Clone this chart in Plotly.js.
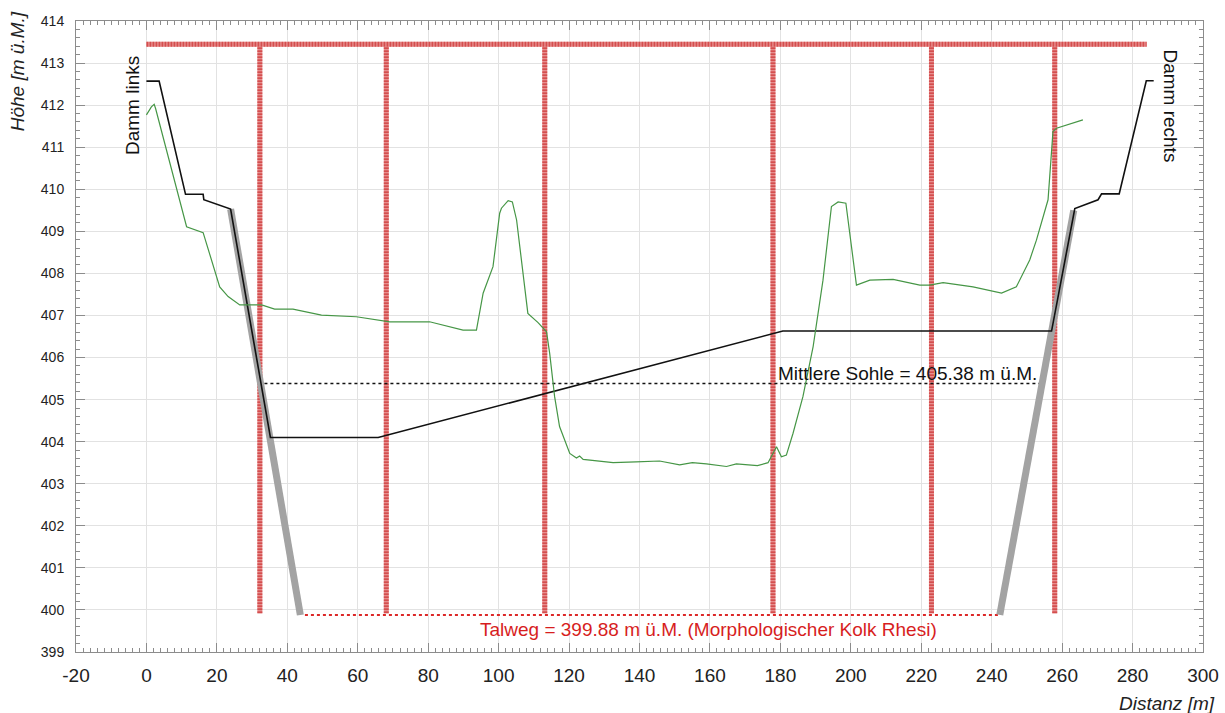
<!DOCTYPE html>
<html>
<head>
<meta charset="utf-8">
<script src="https://cdn.plot.ly/plotly-3.0.1.min.js"></script>
<style>
  html, body { margin: 0; padding: 0; background: #ffffff; }
  #chart { width: 1225px; height: 713px; }
</style>
</head>
<body>
<div id="chart"></div>
<script>
// Cross-section: surveyed terrain, design profile, embankments and reference levels

// Surveyed terrain (green)
const groundX = [0, 1.4, 2.2, 2.6, 11.4, 16.1, 20.8, 23.2, 26.5, 32.7, 36.4, 41.6, 49.7, 59.6, 69.1, 80.4,
  89.9, 93.7, 95.6, 98.4, 100.3, 100.8, 102.7, 103.9, 105.1, 108.3, 111.2, 113.6, 114.5, 115.9, 117.3,
  120.2, 122.1, 123.0, 124.0, 127.5, 132.5, 139.0, 145.7, 151.4, 155.0, 159.0, 164.7, 167.5, 170.4, 173.5,
  176.5, 178.9, 180.3, 181.7, 183.6, 186.4, 189.3, 192.1, 194.5, 196.4, 198.6, 201.6, 205.4, 212.0,
  219.6, 222.4, 226.2, 234.7, 242.8, 247.0, 250.8, 252.7, 256.0, 256.7, 257.4, 258.4, 265.9];
const groundY = [411.77, 411.96, 412.02, 411.92, 409.11, 408.97, 407.68, 407.45, 407.25, 407.25, 407.15,
  407.15, 407.01, 406.97, 406.85, 406.85, 406.65, 406.65, 407.53, 408.16, 409.43, 409.55, 409.73, 409.70,
  409.27, 407.05, 406.83, 406.61, 406.10, 405.07, 404.36, 403.72, 403.61, 403.66, 403.58, 403.54, 403.50,
  403.52, 403.54, 403.45, 403.50, 403.47, 403.41, 403.47, 403.45, 403.43, 403.50, 403.88, 403.64, 403.68,
  404.20, 405.07, 406.26, 407.84, 409.59, 409.70, 409.67, 407.72, 407.84, 407.86, 407.72, 407.72, 407.78,
  407.68, 407.53, 407.68, 408.32, 408.79, 409.75, 410.62, 411.37, 411.45, 411.65];

// Design profile with dykes (black)
const designX = [0, 3.6, 11.1, 16.1, 16.3, 23.9, 35.2, 65.8, 180.7, 257.0, 263.6, 270.2, 271.2, 276.2, 283.9, 286.0];
const designY = [412.57, 412.57, 409.88, 409.88, 409.75, 409.53, 404.10, 404.10, 406.63, 406.63, 409.54,
  409.75, 409.89, 409.89, 412.58, 412.58];

// Embankment slopes down to the scour level (grey)
const slopeLeftX = [23.9, 43.7];
const slopeLeftY = [409.53, 399.88];
const slopeRightX = [242.3, 263.3];
const slopeRightY = [399.88, 409.50];

// Reference levels
const meanBed = 405.38;
const meanBedX = [33.5, 253.6];
const thalweg = 399.88;
const thalwegX = [45.0, 242.3];

// Red frame: top beam and vertical posts
const beamLevel = 413.45;
const beamX = [0, 284];
const postX = [32.2, 68.1, 113.1, 177.9, 222.9, 257.9];
const postBottom = 399.92;

// Axis ticks
const xTicks = [-20, 0, 20, 40, 60, 80, 100, 120, 140, 160, 180, 200, 220, 240, 260, 280, 300];
const yTicks = [399, 400, 401, 402, 403, 404, 405, 406, 407, 408, 409, 410, 411, 412, 413, 414];

const FONT = 'Liberation Sans, Arial, Helvetica, sans-serif';
const RED_LIGHT = 'rgb(238,165,165)';
const RED_DARK = 'rgb(212,78,78)';

const postXs = [], postYs = [];
postX.forEach(function (x) { postXs.push(x, x, null); postYs.push(postBottom, beamLevel, null); });

// The frame members get a light base and a fine dashed overlay for a hatched look
function frameMember(xs, ys) {
  return [
    { x: xs, y: ys, mode: 'lines', line: { color: RED_LIGHT, width: 5 }, hoverinfo: 'skip' },
    { x: xs, y: ys, mode: 'lines', line: { color: RED_DARK, width: 5, dash: '2px,1px' }, hoverinfo: 'skip' }
  ];
}

const traces = [].concat(
  frameMember(postXs, postYs),
  frameMember(beamX, [beamLevel, beamLevel]),
  [
    { x: thalwegX, y: [thalweg, thalweg], mode: 'lines', line: { color: 'rgb(220,40,40)', width: 2, dash: 'dot' } },
    { x: meanBedX, y: [meanBed, meanBed], mode: 'lines', line: { color: '#111111', width: 1.5, dash: 'dot' } },
    { x: slopeLeftX, y: slopeLeftY, mode: 'lines', line: { color: '#a3a3a3', width: 7 } },
    { x: slopeRightX, y: slopeRightY, mode: 'lines', line: { color: '#a3a3a3', width: 7 } },
    { x: designX, y: designY, mode: 'lines', line: { color: '#111111', width: 1.6 } },
    { x: groundX, y: groundY, mode: 'lines', line: { color: 'rgb(70,150,70)', width: 1.2 } }
  ]
);

const axisCommon = {
  showline: true, linecolor: '#8c8c8c', linewidth: 1, mirror: 'ticks',
  ticks: 'inside', tickcolor: '#8c8c8c', tickwidth: 1, ticklen: 9,
  showgrid: true, gridcolor: '#e2e2e2', gridwidth: 1, zeroline: false,
  fixedrange: true
};

const layout = {
  width: 1225, height: 713,
  margin: { l: 76, r: 22, t: 21, b: 61 },
  paper_bgcolor: '#ffffff', plot_bgcolor: '#ffffff',
  showlegend: false,
  font: { family: FONT, color: '#222222' },
  xaxis: Object.assign({}, axisCommon, {
    range: [-20, 300], tickmode: 'array', tickvals: xTicks, ticktext: xTicks.map(String),
    tickfont: { size: 19, family: FONT, color: '#222222' }, ticklabelstandoff: 6,
    minor: { dtick: 2, tick0: 0, ticks: 'inside', ticklen: 4, tickcolor: '#8c8c8c', showgrid: false }
  }),
  yaxis: Object.assign({}, axisCommon, {
    range: [399, 414], tickmode: 'array', tickvals: yTicks, ticktext: yTicks.map(String),
    tickfont: { size: 14, family: FONT, color: '#222222' }, ticklabelstandoff: 8,
    minor: { dtick: 0.2, tick0: 399, ticks: 'inside', ticklen: 4, tickcolor: '#8c8c8c', showgrid: false }
  }),
  annotations: [
    { xref: 'paper', yref: 'paper', x: -0.052, y: 0.921, text: 'Höhe [m ü.M.]', textangle: -90,
      showarrow: false, xanchor: 'center', yanchor: 'middle',
      font: { size: 19, family: FONT, color: '#222222', style: 'italic' } },
    { xref: 'paper', yref: 'paper', x: 1.012, y: -0.081, text: 'Distanz [m]',
      showarrow: false, xanchor: 'right', yanchor: 'middle',
      font: { size: 19, family: FONT, color: '#222222', style: 'italic' } },
    { xref: 'x', yref: 'y', x: -3.8, y: 411.98, text: 'Damm links', textangle: -90,
      showarrow: false, xanchor: 'center', yanchor: 'middle',
      font: { size: 19, family: FONT, color: '#111111' } },
    { xref: 'x', yref: 'y', x: 290.5, y: 411.98, text: 'Damm rechts', textangle: 90,
      showarrow: false, xanchor: 'center', yanchor: 'middle',
      font: { size: 19, family: FONT, color: '#111111' } },
    { xref: 'x', yref: 'y', x: 216.2, y: 405.63,
      text: 'Mittlere Sohle = ' + meanBed.toFixed(2) + ' m ü.M.',
      showarrow: false, xanchor: 'center', yanchor: 'middle',
      font: { size: 19, family: FONT, color: '#111111' } },
    { xref: 'x', yref: 'y', x: 159.7, y: 399.54,
      text: 'Talweg = ' + thalweg.toFixed(2) + ' m ü.M. (Morphologischer Kolk Rhesi)',
      showarrow: false, xanchor: 'center', yanchor: 'middle',
      font: { size: 19, family: FONT, color: 'rgb(215,30,30)' } }
  ]
};

Plotly.newPlot('chart', traces, layout, { displayModeBar: false, staticPlot: true });
</script>
</body>
</html>
